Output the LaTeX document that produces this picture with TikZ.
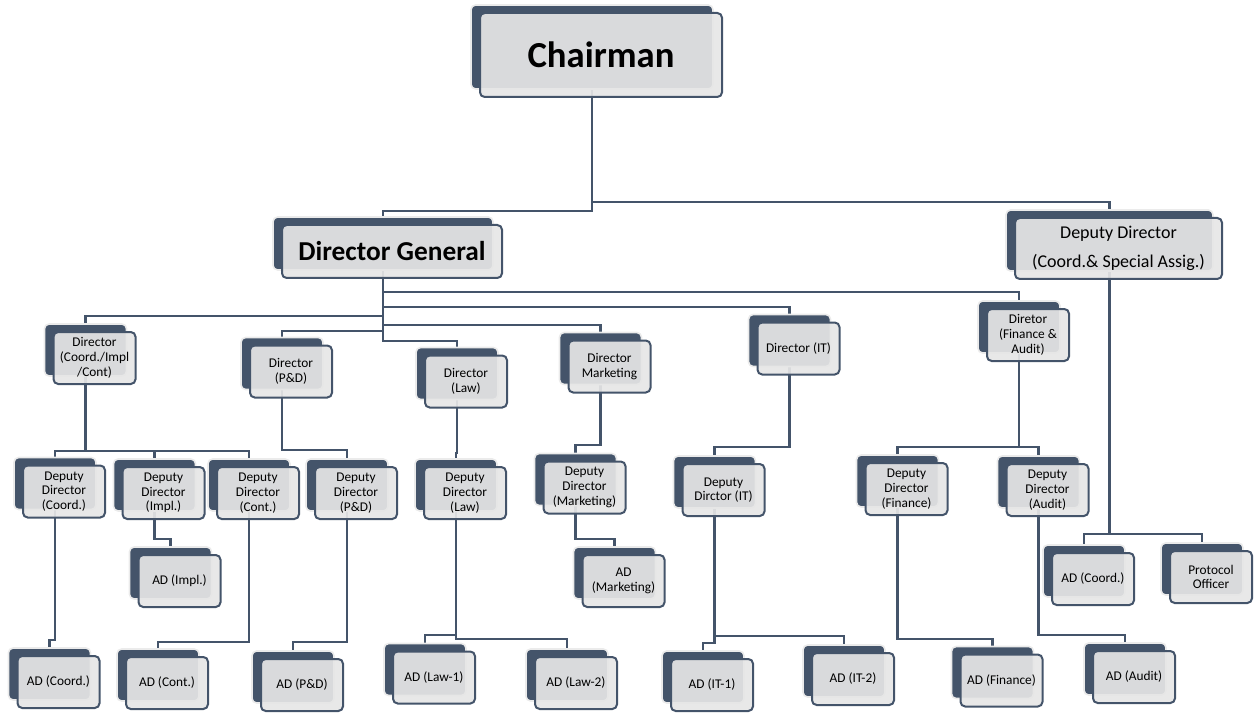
\documentclass[tikz,border=0pt]{standalone}
\usepackage{fontspec}
\setmainfont{Carlito}
\usetikzlibrary{shadows,backgrounds}
\definecolor{slate}{HTML}{44546A}
\definecolor{paper}{HTML}{E6E6E6}
\tikzset{
  post/.style={draw=slate, line width=1.5pt, rounded corners=3.5pt, fill=paper,
    fill opacity=0.92, text opacity=1, align=center, inner sep=1pt,
    minimum width=61.5pt, minimum height=39pt,
    font=\fontsize{10}{11}\selectfont,
    copy shadow={shadow xshift=-6.75pt, shadow yshift=6pt, fill=slate,
      draw=black!8, line width=1.2pt, fill opacity=1}},
  rear/.style={xshift=-6.75pt, yshift=6pt},
  link/.style={draw=slate, line width=1.7pt},
}
\begin{document}
\begin{tikzpicture}[x=0.75pt, y=-0.75pt]
\useasboundingbox (0,0) rectangle (1254,713);
% top
\node[post, minimum width=181.5pt, minimum height=63pt,
  font=\bfseries\fontsize{27.5}{30}\selectfont] (chair) at (601,55) {Chairman};
\node[post, minimum width=165pt, minimum height=39.75pt,
  font=\bfseries\fontsize{20.5}{24}\selectfont] (dg) at (392,251.5) {Director General};
\node[post, minimum width=155.25pt, minimum height=45.75pt,
  font=\fontsize{13.5}{21.75}\selectfont] (ddcs) at (1118.5,248.5) {Deputy Director\\(Coord.\& Special Assig.)};
% directors
\node[post] (dcic) at (94.5,358) {Director\\(Coord./Impl\\/Cont)};
\node[post] (dpd) at (291,371.5) {Director\\(P\&D)};
\node[post] (dlaw) at (466,381.5) {Director\\(Law)};
\node[post] (dmkt) at (609.5,366.5) {Director\\Marketing};
\node[post] (dit) at (798.5,348.5) {Director (IT)};
\node[post] (dfa) at (1028,335) {Diretor\\(Finance \&\\Audit)};
% deputy directors
\node[post] (ddco) at (64,491.5) {Deputy\\Director\\(Coord.)};
\node[post] (ddim) at (163.5,493) {Deputy\\Director\\(Impl.)};
\node[post] (ddct) at (258,493) {Deputy\\Director\\(Cont.)};
\node[post] (ddpd) at (356,493) {Deputy\\Director\\(P\&D)};
\node[post] (ddlaw) at (465,493) {Deputy\\Director\\(Law)};
\node[post] (ddmkt) at (584.5,487.5) {Deputy\\Director\\(Marketing)};
\node[post] (ddit) at (723.5,490) {Deputy\\Dirctor (IT)};
\node[post] (ddfin) at (906.5,489) {Deputy\\Director\\(Finance)};
\node[post] (ddaud) at (1047.5,490) {Deputy\\Director\\(Audit)};
% middle row
\node[post] (adim) at (179.5,581) {AD (Impl.)};
\node[post] (admkt) at (623.5,581) {AD\\(Marketing)};
\node[post] (adcs) at (1093,579) {AD (Coord.)};
\node[post] (proto) at (1211,577) {Protocol\\Officer};
% bottom row
\node[post] (adco) at (58.5,682) {AD (Coord.)};
\node[post] (adct) at (167,683) {AD (Cont.)};
\node[post] (adpd) at (302,685) {AD (P\&D)};
\node[post] (adl1) at (434,677.5) {AD (Law-1)};
\node[post] (adl2) at (576,683) {AD (Law-2)};
\node[post] (adi1) at (712,685) {AD (IT-1)};
\node[post] (adi2) at (853,679) {AD (IT-2)};
\node[post] (adfin) at (1001.5,680.5) {AD (Finance)};
\node[post] (adaud) at (1134,677) {AD (Audit)};
% centre of each back panel, where the lines attach
\foreach \n in {chair,dg,ddcs,dcic,dpd,dlaw,dmkt,dit,dfa,ddco,ddim,ddct,ddpd,ddlaw,
  ddmkt,ddit,ddfin,ddaud,adim,admkt,adcs,proto,adco,adct,adpd,adl1,adl2,adi1,adi2,
  adfin,adaud}
  \coordinate (\n-r) at ([rear]\n);
% connectors
\begin{scope}[on background layer]
\draw[link] (chair-r) |- (0,211 -| dg-r) -- (dg-r);
\draw[link] (chair-r) |- (0,202 -| ddcs-r) -- (ddcs-r);
\draw[link] (dg-r) |- (0,316 -| dcic-r) -- (dcic-r);
\draw[link] (dg-r) |- (0,331 -| dpd-r) -- (dpd-r);
\draw[link] (dg-r) |- (0,341 -| dlaw-r) -- (dlaw-r);
\draw[link] (dg-r) |- (0,325 -| dmkt-r) -- (dmkt-r);
\draw[link] (dg-r) |- (0,307 -| dit-r) -- (dit-r);
\draw[link] (dg-r) |- (0,292 -| dfa-r) -- (dfa-r);
\draw[link] (dcic-r) |- (0,451 -| ddco-r) -- (ddco-r);
\draw[link] (dcic-r) |- (0,451 -| ddim-r) -- (ddim-r);
\draw[link] (dcic-r) |- (0,451 -| ddct-r) -- (ddct-r);
\draw[link] (dpd-r) |- (0,450 -| ddpd-r) -- (ddpd-r);
\draw[link] (dlaw-r) |- (0,453 -| ddlaw-r) -- (ddlaw-r);
\draw[link] (dmkt-r) |- (0,445 -| ddmkt-r) -- (ddmkt-r);
\draw[link] (dit-r) |- (0,447 -| ddit-r) -- (ddit-r);
\draw[link] (dfa-r) |- (0,447 -| ddfin-r) -- (ddfin-r);
\draw[link] (dfa-r) |- (0,447 -| ddaud-r) -- (ddaud-r);
\draw[link] (ddcs-r) |- (0,534 -| adcs-r) -- (adcs-r);
\draw[link] (ddcs-r) |- (0,534 -| proto-r) -- (proto-r);
\draw[link] (ddim-r) |- (0,539 -| adim-r) -- (adim-r);
\draw[link] (ddmkt-r) |- (0,539 -| admkt-r) -- (admkt-r);
\draw[link] (ddco-r) |- (0,640 -| adco-r) -- (adco-r);
\draw[link] (ddct-r) |- (0,642 -| adct-r) -- (adct-r);
\draw[link] (ddpd-r) |- (0,642 -| adpd-r) -- (adpd-r);
\draw[link] (ddlaw-r) |- (0,635 -| adl1-r) -- (adl1-r);
\draw[link] (ddlaw-r) |- (0,639 -| adl2-r) -- (adl2-r);
\draw[link] (ddit-r) |- (0,643 -| adi1-r) -- (adi1-r);
\draw[link] (ddit-r) |- (0,636 -| adi2-r) -- (adi2-r);
\draw[link] (ddfin-r) |- (0,639 -| adfin-r) -- (adfin-r);
\draw[link] (ddaud-r) |- (0,635 -| adaud-r) -- (adaud-r);
\end{scope}
\end{tikzpicture}
\end{document}
